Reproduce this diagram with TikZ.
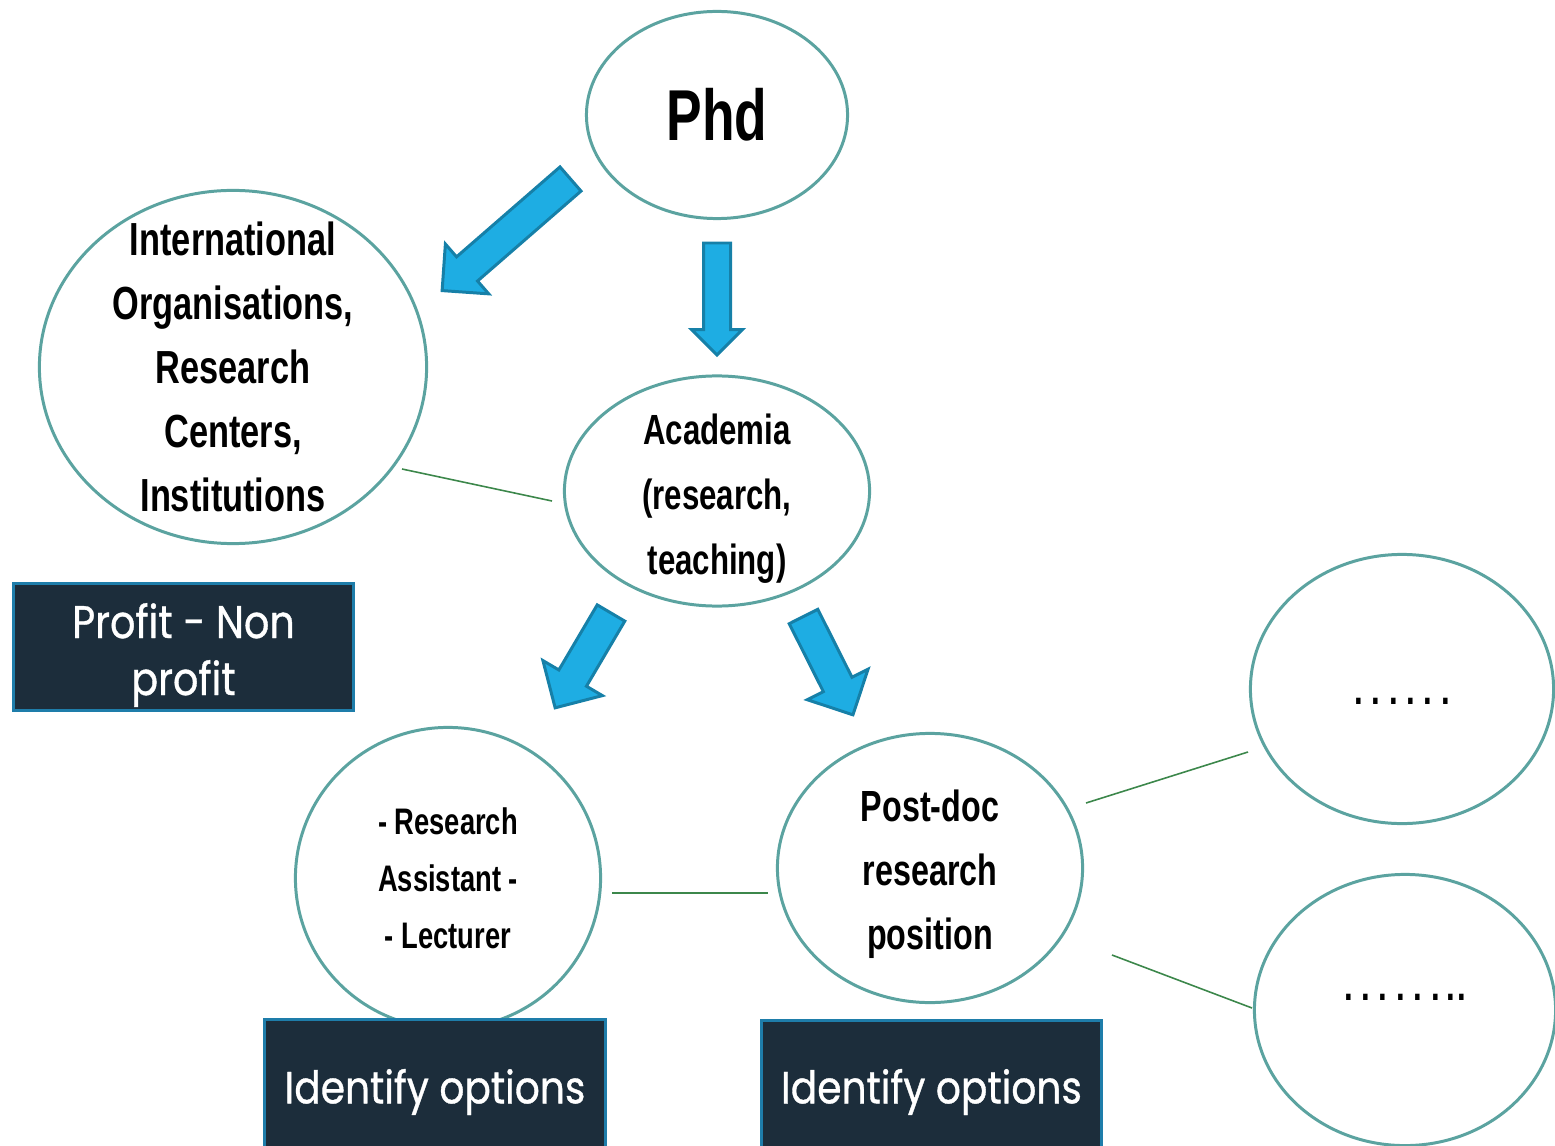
\documentclass[tikz,border=0pt]{standalone}
\usepackage{fontspec}
\setmainfont{Liberation Sans}
\newfontfamily\agency[FakeStretch=0.74]{Liberation Sans}
\newfontfamily\twcen[FakeStretch=0.87,FakeBold=0.8]{Poppins}
\usetikzlibrary{shapes.geometric,shapes.arrows,positioning}
\definecolor{ringteal}{RGB}{91,163,160}
\definecolor{arrowfill}{RGB}{30,173,227}
\definecolor{arrowedge}{RGB}{22,128,168}
\definecolor{boxfill}{RGB}{28,45,59}
\definecolor{boxedge}{RGB}{30,125,170}
\definecolor{linkgreen}{RGB}{60,135,75}

\tikzset{
  bubble/.style={ellipse, draw=ringteal, line width=0.85pt, fill=white, align=center, inner sep=-1cm},
  optionbox/.style={rectangle, draw=boxedge, fill=boxfill, line width=0.85pt, text=white, align=center, inner sep=0pt, font=\twcen\fontsize{13}{16.2}\selectfont},
  boxtext/.style={text=white, align=center, inner sep=0pt, font=\twcen\fontsize{13}{16.2}\selectfont},
  link/.style={draw=linkgreen, line width=0.45pt},
  blockarrow/.style n args={3}{single arrow, draw=arrowedge, fill=arrowfill, line width=0.85pt, outer sep=0pt, inner xsep=0pt, inner ysep=#2, single arrow head extend=#3, single arrow head indent=0pt, minimum height=#1, minimum width=0pt, anchor=tail}
}

\begin{document}
\begin{tikzpicture}[x=0.01cm, y=-0.01cm]
  \clip (0,0) rectangle (1555,1146);

  % career bubbles
  \node[bubble, minimum width=2.61cm, minimum height=2.07cm, font=\agency\bfseries\fontsize{20.5}{25}\selectfont] (phd) at (717,115) {Phd};
  \node[bubble, minimum width=3.87cm, minimum height=3.53cm, font=\agency\bfseries\fontsize{13.2}{18.2}\selectfont] (intl) at (233,367) {International\\Organisations,\\Research\\Centers,\\Institutions};
  \node[bubble, minimum width=3.05cm, minimum height=2.30cm, font=\agency\bfseries\fontsize{12}{18.5}\selectfont] (acad) at (717,491) {\rule{0pt}{13pt}Academia\\(research,\\teaching)};
  \node[bubble, minimum width=3.05cm, minimum height=3.01cm, font=\agency\bfseries\fontsize{10.5}{16.2}\selectfont] (assist) at (448,878) {- Research\\Assistant -\\- Lecturer};
  \node[bubble, minimum width=3.05cm, minimum height=2.69cm, font=\agency\bfseries\fontsize{12.4}{18.2}\selectfont] (postdoc) at (930,868) {\rule{0pt}{12.6pt}Post-doc\\research\\position};
  \node[bubble, minimum width=3.03cm, minimum height=2.69cm, font=\agency\bfseries\fontsize{12}{14}\selectfont] (more1) at (1402,689) {\smash{\raisebox{-4.5pt}{.\ .\ .\ .\ .\ .}}};
  \node[bubble, minimum width=3.01cm, minimum height=2.71cm, font=\agency\bfseries\fontsize{12}{14}\selectfont] (more2) at (1405,1010) {\smash{\raisebox{2.6pt}{.\ .\ .\ .\ .\ .\,.\hspace{0.5pt}.}}};

  % thin links
  \coordinate (l1s) at (402,469);
  \coordinate (l1e) at (552,501);
  \coordinate (l2s) at (612,893);
  \coordinate (l2e) at (768,893);
  \coordinate (l3s) at (1086,803);
  \coordinate (l3e) at (1248,752);
  \coordinate (l4s) at (1112,955);
  \coordinate (l4e) at (1252,1008);
  \draw[link] (l1s) -- (l1e);
  \draw[link] (l2s) -- (l2e);
  \draw[link] (l3s) -- (l3e);
  \draw[link] (l4s) -- (l4e);

  % block arrows
  \node[blockarrow={1.70cm}{0.145cm}{0.17cm}, rotate=221] (arrintl) at (570.5,179) {};
  \node[blockarrow={1.12cm}{0.12cm}{0.12cm}, rotate=-90] (arracad) at (717,243) {};
  \node[blockarrow={1.10cm}{0.145cm}{0.185cm}, rotate=-120.5] (arrassist) at (611,613) {};
  \node[blockarrow={1.10cm}{0.145cm}{0.18cm}, rotate=-63.3] (arrpost) at (803.5,616.5) {};

  % dark labels
  \node[optionbox, minimum width=3.40cm, minimum height=1.27cm] (profit) at (183.5,647) {};
  \node[boxtext] (profittext) at (183.5,655) {Profit - Non\\profit};
  \node[optionbox, minimum width=3.41cm, minimum height=1.45cm, font=\twcen\fontsize{12.8}{16}\selectfont] (idassist) at (435,1092) {Identify options};
  \node[optionbox, minimum width=3.40cm, minimum height=1.43cm, font=\twcen\fontsize{12.8}{16}\selectfont] (idpost) at (931.5,1092) {Identify options};
\end{tikzpicture}
\end{document}
